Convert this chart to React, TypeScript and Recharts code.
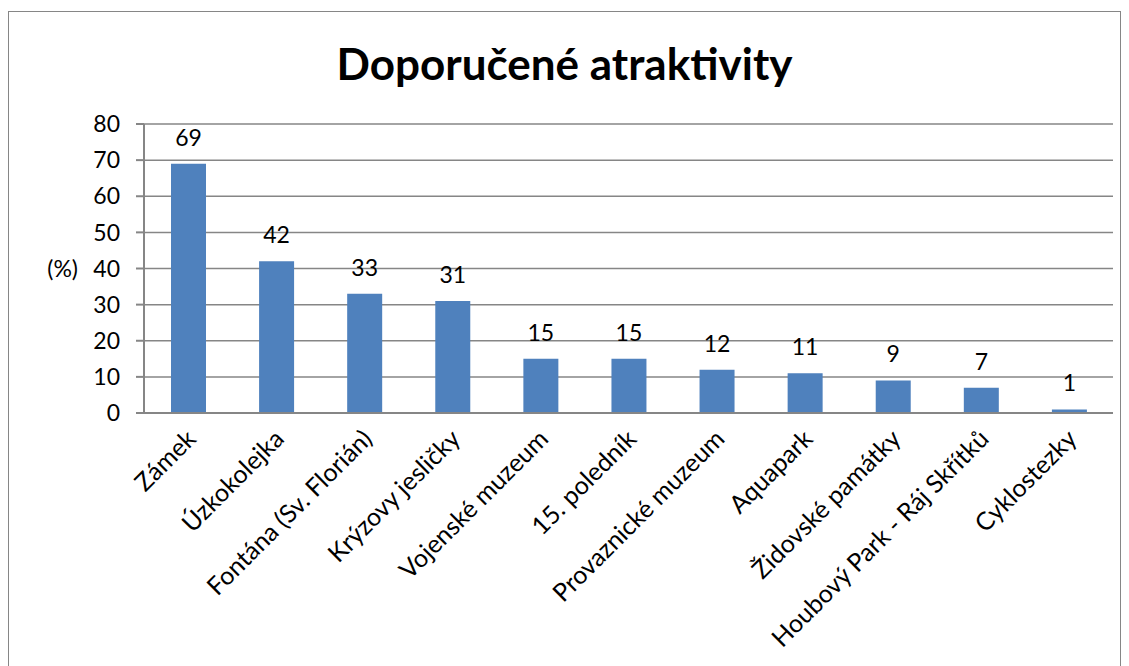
import { BarChart, Bar, XAxis, YAxis, CartesianGrid, LabelList } from 'recharts';

const categories = [
  'Zámek',
  'Úzkokolejka',
  'Fontána (Sv. Florián)',
  'Krýzovy jesličky',
  'Vojenské muzeum',
  '15. poledník',
  'Provaznické muzeum',
  'Aquapark',
  'Židovské památky',
  'Houbový Park - Ráj Skřítků',
  'Cyklostezky',
];
const values = [69, 42, 33, 31, 15, 15, 12, 11, 9, 7, 1];
const yTicks = [0, 10, 20, 30, 40, 50, 60, 70, 80];
const edgeTicks = [0, 1, 2, 3, 4, 5, 6, 7, 8, 9, 10, 11];

const data = categories.map((name, i) => ({ name, value: values[i], pos: i + 0.5 }));

const FONT = 'Lato, "Open Sans", sans-serif';
const GRID = '#868686';

const CatTick = (props: any) => {
  const { x, y, payload } = props;
  return (
    <g transform={`translate(${x + 5},${y + 15})`}>
      <text
        transform="rotate(-45)"
        textAnchor="end"
        dominantBaseline="middle"
        fontSize={25}
        fontFamily={FONT}
        fill="#000"
      >
        {payload.value}
      </text>
    </g>
  );
};

export default function App() {
  return (
    <div
      style={{
        position: 'absolute',
        left: 8,
        top: 11,
        width: 1111,
        height: 660,
        border: `1px solid ${GRID}`,
        borderBottom: 'none',
        background: '#fff',
        fontFamily: FONT,
      }}
    >
      <div
        style={{
          position: 'absolute',
          left: 0,
          right: 0,
          top: 25,
          textAlign: 'center',
          fontSize: 44,
          fontWeight: 700,
          color: '#000',
          lineHeight: '52px',
        }}
      >
        Doporučené atraktivity
      </div>
      <BarChart
        width={1111}
        height={655}
        data={data}
        margin={{ top: 112, right: 7, bottom: 0, left: 85 }}
        barSize={35}
      >
        <CartesianGrid horizontal vertical={false} stroke={GRID} strokeWidth={1.5} />
        <XAxis
          dataKey="name"
          interval={0}
          height={253}
          tick={<CatTick />}
          tickLine={false}
          axisLine={{ stroke: GRID, strokeWidth: 2 }}
        />
        <XAxis
          xAxisId="edges"
          type="number"
          dataKey="pos"
          domain={[0, 11]}
          ticks={edgeTicks}
          tick={false}
          tickSize={7}
          tickLine={{ stroke: GRID, strokeWidth: 2 }}
          axisLine={false}
          height={1}
          allowDataOverflow
        />
        <YAxis
          domain={[0, 80]}
          ticks={yTicks}
          width={50}
          tickSize={8}
          tickMargin={16}
          tick={{ fontSize: 23, fontFamily: FONT, fill: '#000' }}
          tickLine={{ stroke: GRID, strokeWidth: 2 }}
          axisLine={{ stroke: GRID, strokeWidth: 2 }}
          label={{
            value: '(%)',
            position: 'left',
            offset: 16,
            fontSize: 23,
            fontFamily: FONT,
            fill: '#000',
          }}
        />
        <Bar dataKey="value" fill="#4F81BD" isAnimationActive={false}>
          <LabelList
            dataKey="value"
            position="top"
            offset={18}
            fontSize={23}
            fontFamily={FONT}
            fill="#000"
          />
        </Bar>
      </BarChart>
    </div>
  );
}
